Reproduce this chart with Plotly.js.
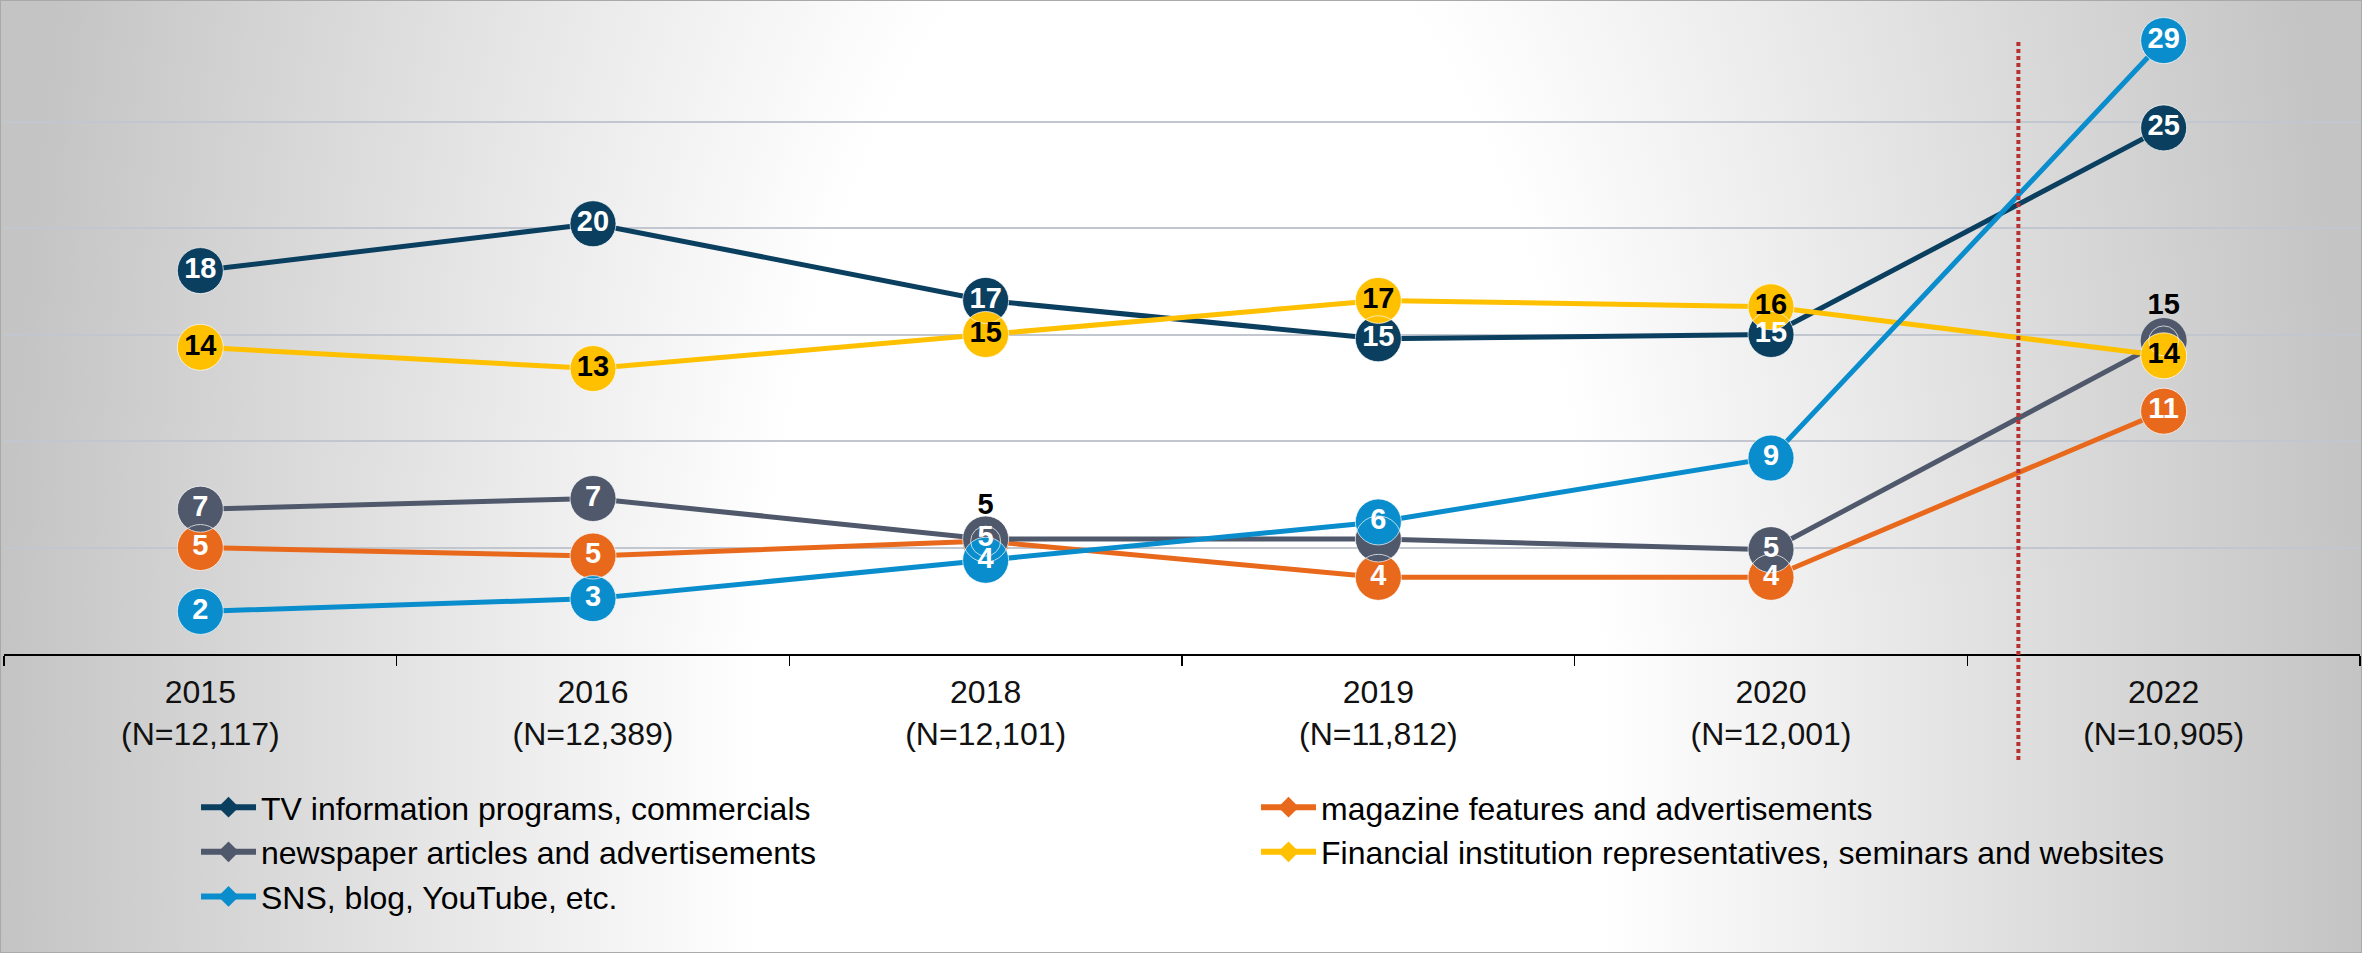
<!DOCTYPE html>
<html>
<head>
<meta charset="utf-8">
<script src="https://cdn.plot.ly/plotly-3.0.1.min.js"></script>
<style>
  html, body { margin: 0; padding: 0; }
  #wrap {
    position: relative; width: 2362px; height: 953px; overflow: hidden;
    background: radial-gradient(ellipse 1180px 2600px at 1180px 800px, #ffffff 0%, #ffffff 36%, #c4c4c4 100%);
  }
  #chart { position: absolute; left: 0; top: 0; width: 2362px; height: 953px; }
  #frame {
    position: absolute; left: 0; top: 0; width: 2362px; height: 953px;
    box-sizing: border-box; border: 1px solid #a9a9a9; pointer-events: none;
  }
</style>
</head>
<body>
<div id="wrap"><div id="chart"></div><div id="frame"></div></div>
<script>
// Survey years and respondent counts (x-axis tick labels)
const years = ['2015', '2016', '2018', '2019', '2020', '2022'];
const sampleSizes = ['12,117', '12,389', '12,101', '11,812', '12,001', '10,905'];

// Share of respondents (%) citing each information source
const tvPrograms = [18.0, 20.2, 16.6, 14.8, 15.0, 24.7];
const magazines = [5.0, 4.6, 5.3, 3.6, 3.6, 11.4];
const newspapers = [6.8, 7.3, 5.4, 5.4, 4.9, 14.7];
const financialInstitutions = [14.4, 13.4, 15.0, 16.6, 16.3, 14.0];
const socialMedia = [2.0, 2.6, 4.4, 6.2, 9.2, 28.8];

const seriesNames = [
  'TV information programs, commercials',
  'magazine features and advertisements',
  'newspaper articles and advertisements',
  'Financial institution representatives, seminars and websites',
  'SNS, blog, YouTube, etc.'
];

const FONT = '"Liberation Sans", Arial, Helvetica, sans-serif';
const MARKER_SIZE = 46;
const RAISED_OFFSET_SIZE = 30; // spacing used for labels placed above a marker
const DIVIDER_X = 4.63;        // dotted separator between the 2020 and 2022 surveys

const categories = years.map((y, i) => `${y}<br>(N=${sampleSizes[i]})`);

const series = [
  { name: seriesNames[0], values: tvPrograms, color: '#0b3f5f', labelColor: '#ffffff', raised: [], hidden: [] },
  { name: seriesNames[1], values: magazines, color: '#e8691c', labelColor: '#ffffff', raised: ['2018'], hidden: [] },
  { name: seriesNames[2], values: newspapers, color: '#4f596b', labelColor: '#ffffff', raised: ['2022'], hidden: ['2019'] },
  { name: seriesNames[3], values: financialInstitutions, color: '#ffc000', labelColor: '#000000', raised: [], hidden: [] },
  { name: seriesNames[4], values: socialMedia, color: '#0a8dcc', labelColor: '#ffffff', raised: [], hidden: [] }
];

const traces = [];

// Lines with circular markers
series.forEach(s => {
  traces.push({
    type: 'scatter', mode: 'lines+markers',
    x: categories, y: s.values,
    line: { color: s.color, width: 5 },
    marker: { color: s.color, size: MARKER_SIZE, line: { width: 0 } },
    showlegend: false, hoverinfo: 'skip', cliponaxis: false
  });
});

// Value labels, drawn above every marker
series.forEach(s => {
  traces.push({
    type: 'scatter', mode: 'markers+text',
    x: categories, y: s.values,
    marker: {
      size: years.map(y => s.raised.includes(y) ? RAISED_OFFSET_SIZE : MARKER_SIZE),
      color: 'rgba(0,0,0,0)'
    },
    texttemplate: years.map(y => s.hidden.includes(y) ? '' : '%{y:.0f}'),
    textposition: years.map(y => s.raised.includes(y) ? 'top center' : 'middle center'),
    textfont: {
      family: FONT, size: 29, weight: 'bold',
      color: years.map(y => s.raised.includes(y) ? '#000000' : s.labelColor)
    },
    showlegend: false, hoverinfo: 'skip', cliponaxis: false
  });
});

// Legend entries
series.forEach(s => {
  traces.push({
    type: 'scatter', mode: 'lines+markers',
    x: [null], y: [null], name: s.name,
    line: { color: s.color, width: 6 },
    marker: { color: s.color, size: 16, symbol: 'diamond' },
    hoverinfo: 'skip'
  });
});

const layout = {
  width: 2362, height: 953,
  margin: { l: 4, r: 2, t: 15, b: 299 },
  paper_bgcolor: 'rgba(0,0,0,0)',
  plot_bgcolor: 'rgba(0,0,0,0)',
  font: { family: FONT, color: '#000000' },
  showlegend: true,
  xaxis: {
    type: 'category', categoryorder: 'array', categoryarray: categories,
    range: [-0.5, 5.5], fixedrange: true,
    showgrid: false, zeroline: false,
    showline: true, linecolor: '#000000', linewidth: 2,
    ticks: 'outside', tickson: 'boundaries', ticklen: 10, tickwidth: 1.5, tickcolor: '#000000',
    ticklabelstandoff: 9,
    tickfont: { family: FONT, size: 32, color: '#111111' }
  },
  yaxis: {
    range: [0, 30], dtick: 5, fixedrange: true,
    showgrid: true, gridcolor: '#c2c7cf', gridwidth: 2,
    zeroline: false, showline: false, showticklabels: false, ticks: ''
  },
  legend: {
    orientation: 'h', x: 0.0815, xanchor: 'left', y: -0.197, yanchor: 'top',
    entrywidth: 990, entrywidthmode: 'pixels', itemwidth: 55,
    font: { family: FONT, size: 32, color: '#000000' },
    bgcolor: 'rgba(0,0,0,0)', traceorder: 'normal'
  },
  shapes: [{
    type: 'line', xref: 'x', yref: 'paper',
    x0: DIVIDER_X, x1: DIVIDER_X, y0: -0.166, y1: 0.958,
    line: { color: '#b83030', width: 4, dash: '4px,3px' }
  }]
};

Plotly.newPlot('chart', traces, layout, { displayModeBar: false, staticPlot: true });
</script>
</body>
</html>
